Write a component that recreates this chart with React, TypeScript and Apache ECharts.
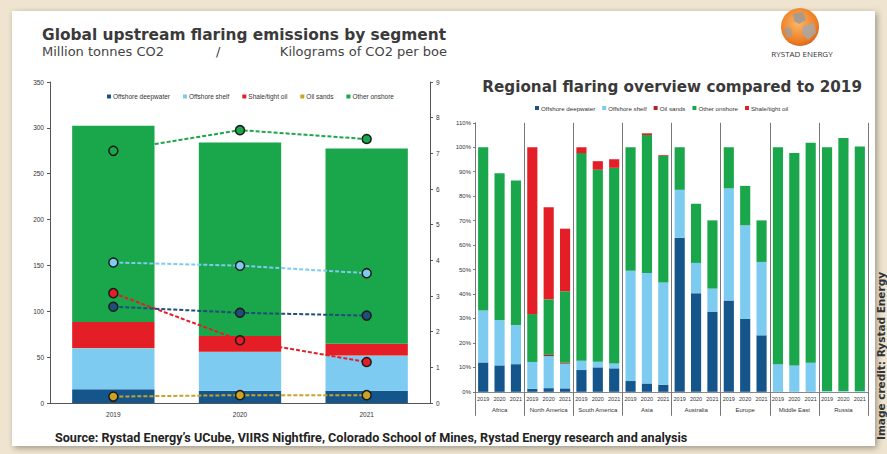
import React, { useEffect, useRef } from 'react';
import * as echarts from 'echarts';

// ---------- Left chart data ----------
const years = ['2019', '2020', '2021'];
const segDeepwater = [15, 13.4, 13.4];
const segShelf = [44.6, 42.2, 38];
const segShale = [28.4, 17.1, 12.7];
const segOilSands = [0.4, 0.4, 0.4];
const segOnshore = [214, 211, 213];

const intDeepwater = [2.7, 2.53, 2.45];
const intShelf = [3.94, 3.85, 3.64];
const intShale = [3.08, 1.76, 1.15];
const intOilSands = [0.18, 0.22, 0.22];
const intOnshore = [7.07, 7.65, 7.4];

// ---------- Right chart data (per region: 2019, 2020, 2021) ----------
const regions = ['Africa', 'North America', 'South America', 'Asia', 'Australia', 'Europe', 'Middle East', 'Russia'];
const regDeepwater = [12, 10.8, 11.3, 1.2, 1.5, 1.4, 8.9, 10, 9.6, 4.4, 3.4, 2.9, 63, 40.3, 32.8, 37.3, 29.8, 23.1, 0, 0, 0, 0, 0, 0];
const regShelf = [21.2, 18.6, 16, 11, 13.1, 10.1, 3.8, 2.3, 2, 45.1, 45.2, 41.8, 19.6, 12.4, 9.4, 45.9, 38.3, 30, 11.3, 10.8, 11.9, 0.3, 0.3, 0.3];
const regOilSands = [0, 0, 0, 0, 0.5, 0.4, 0, 0, 0, 0, 0, 0, 0, 0, 0, 0, 0, 0, 0, 0, 0, 0, 0, 0];
const regOnshore = [66.8, 60, 59.1, 19.6, 22.7, 29.2, 84.9, 78.5, 80, 50.5, 56.4, 51.8, 17.4, 24.2, 27.9, 16.8, 16.1, 17, 88.7, 86.8, 89.9, 99.7, 103.5, 100];
const regShale = [0, 0, 0, 68.2, 37.7, 25.6, 2.4, 3.5, 3.5, 0, 0.7, 0.3, 0, 0, 0, 0, 0, 0, 0, 0, 0, 0, 0, 0];

const C = {
  deep: '#14558c',
  shelf: '#7ecbf1',
  shale: '#e41e26',
  oilLeft: '#c9a227',
  oilRight: '#b0232a',
  onshore: '#1aa64b',
};

export default function App() {
  const ref = useRef<HTMLDivElement>(null);
  useEffect(() => {
    if (!ref.current) return;
    const chart = echarts.init(ref.current, undefined, { renderer: 'svg' });
    const cats = regions.flatMap((r) => years.map((y) => r + '|' + y));
    const axisGray = '#555';
    const tiny = { fontSize: 6.5, color: '#333', fontFamily: 'Arial, Liberation Sans, sans-serif' };

    const barSeries = (name: string, data: number[], color: string, xi: number, yi: number, stack: string, width: string) => ({
      type: 'bar', name, data, stack, xAxisIndex: xi, yAxisIndex: yi, barWidth: width,
      itemStyle: { color }, emphasis: { disabled: true }, z: 2,
    });
    const lineSeries = (name: string, data: number[], color: string) => ({
      type: 'line', name, data, xAxisIndex: 0, yAxisIndex: 1,
      lineStyle: { color, width: 2, type: [4, 2] },
      itemStyle: { color, borderColor: '#1a1a1a', borderWidth: 1.5 },
      symbol: 'circle', symbolSize: 9, z: 5,
    });

    chart.setOption({
      animation: false,
      backgroundColor: '#eee4cf',
      textStyle: { fontFamily: 'Arial, Liberation Sans, sans-serif' },
      graphic: [
        {
          type: 'rect', z: -10, shape: { x: 12, y: 11, width: 863, height: 435 },
          style: { fill: '#ffffff', shadowBlur: 6, shadowColor: 'rgba(0,0,0,0.35)', shadowOffsetX: 2, shadowOffsetY: 2 },
        },
        {
          type: 'text', x: 42, y: 35,
          style: { text: 'Global upstream flaring emissions by segment', font: 'bold 15.4px "DejaVu Sans", sans-serif', fill: '#3a3a3a', textVerticalAlign: 'middle' },
        },
        { type: 'text', x: 42, y: 51, style: { text: 'Million tonnes CO2', font: '13px "DejaVu Sans", sans-serif', fill: '#444', textVerticalAlign: 'middle' } },
        { type: 'text', x: 216, y: 51, style: { text: '/', font: '13px "DejaVu Sans", sans-serif', fill: '#444', textVerticalAlign: 'middle' } },
        { type: 'text', x: 447, y: 51, style: { text: 'Kilograms of CO2 per boe', font: '13px "DejaVu Sans", sans-serif', fill: '#444', textAlign: 'right', textVerticalAlign: 'middle' } },
        {
          type: 'text', x: 862, y: 87,
          style: { text: 'Regional flaring overview compared to 2019', font: 'bold 15.2px "DejaVu Sans", sans-serif', fill: '#3a3a3a', textAlign: 'right', textVerticalAlign: 'middle' },
        },
        {
          type: 'text', x: 55, y: 437,
          style: { text: 'Source: Rystad Energy\u2019s UCube, VIIRS Nightfire, Colorado School of Mines, Rystad Energy research and analysis', font: 'bold 12.6px Roboto, sans-serif', fill: '#222', textVerticalAlign: 'middle' },
        },
        {
          type: 'text', x: 802, y: 53,
          style: { text: 'RYSTAD ENERGY', font: '8px "Open Sans", sans-serif', fill: '#333', textAlign: 'center', textVerticalAlign: 'middle' },
        },
        {
          type: 'circle', shape: { cx: 800, cy: 27, r: 19 },
          style: {
            fill: new echarts.graphic.RadialGradient(0.45, 0.4, 0.7, [
              { offset: 0, color: '#fbb76a' },
              { offset: 0.7, color: '#ee7d22' },
              { offset: 1, color: '#c9561a' },
            ]),
          },
        },
        { type: 'polygon', shape: { points: [[793, 14], [803, 12], [806, 20], [799, 24], [794, 21]] }, style: { fill: '#9a9a9a', opacity: 0.85 } },
        { type: 'polygon', shape: { points: [[803, 26], [814, 23], [816, 33], [808, 40], [802, 34]] }, style: { fill: '#a7a7a7', opacity: 0.85 } },
        { type: 'polygon', shape: { points: [[784, 27], [791, 28], [792, 36], [787, 38]] }, style: { fill: '#9d9d9d', opacity: 0.8 } },
        {
          type: 'text', x: 881, y: 272, rotation: Math.PI / 2,
          style: { text: 'Image credit: Rystad Energy', font: 'bold 10.5px "DejaVu Sans", sans-serif', fill: '#333', textAlign: 'right', textVerticalAlign: 'middle' },
        },
      ],
      legend: [
        {
          left: 102, top: 88, icon: 'rect', itemWidth: 4, itemHeight: 4, itemGap: 13,
          textStyle: { ...tiny, padding: [0, 0, 0, -3] },
          data: [
            { name: 'Offshore deepwater', itemStyle: { color: C.deep } },
            { name: 'Offshore shelf', itemStyle: { color: C.shelf } },
            { name: 'Shale/tight oil', itemStyle: { color: C.shale } },
            { name: 'Oil sands', itemStyle: { color: C.oilLeft } },
            { name: 'Other onshore', itemStyle: { color: C.onshore } },
          ],
          selectedMode: false,
        },
        {
          left: 530, top: 100, icon: 'rect', itemWidth: 4, itemHeight: 4, itemGap: 7,
          textStyle: { ...tiny, fontSize: 6.2, padding: [0, 0, 0, -3] },
          data: [
            { name: 'Offshore deepwater', itemStyle: { color: C.deep } },
            { name: 'Offshore shelf', itemStyle: { color: C.shelf } },
            { name: 'Oil sands', itemStyle: { color: C.oilRight } },
            { name: 'Other onshore', itemStyle: { color: C.onshore } },
            { name: 'Shale/tight oil', itemStyle: { color: C.shale } },
          ],
          selectedMode: false,
        },
      ],
      grid: [
        { left: 50, top: 82, width: 380, height: 321 },
        { left: 475, top: 122.8, width: 393, height: 269 },
      ],
      xAxis: [
        {
          type: 'category', gridIndex: 0, data: years,
          axisLine: { lineStyle: { color: axisGray } }, axisTick: { show: false },
          axisLabel: { ...tiny, margin: 8 },
        },
        {
          type: 'category', gridIndex: 1, data: cats,
          axisLine: { lineStyle: { color: '#888' } }, axisTick: { show: false },
          axisLabel: { ...tiny, fontSize: 5.5, margin: 4, interval: 0, formatter: (v: string) => v.split('|')[1] },
        },
        {
          type: 'category', gridIndex: 1, data: regions, position: 'bottom',
          axisLine: { show: false },
          axisTick: { show: true, length: 24, lineStyle: { color: '#777' } },
          splitLine: { show: true, lineStyle: { color: '#777', width: 1 } },
          axisLabel: { ...tiny, fontSize: 6, margin: 15, interval: 0 },
        },
      ],
      yAxis: [
        {
          type: 'value', gridIndex: 0, min: 0, max: 350, interval: 50, position: 'left',
          axisLine: { show: true, lineStyle: { color: axisGray } },
          axisTick: { show: true, length: 3, lineStyle: { color: axisGray } },
          splitLine: { show: false }, axisLabel: { ...tiny, margin: 6 },
        },
        {
          type: 'value', gridIndex: 0, min: 0, max: 9, interval: 1, position: 'right',
          axisLine: { show: true, lineStyle: { color: axisGray } },
          axisTick: { show: true, length: 3, lineStyle: { color: axisGray } },
          splitLine: { show: false }, axisLabel: { ...tiny, margin: 6 },
        },
        {
          type: 'value', gridIndex: 1, min: 0, max: 110, interval: 10,
          axisLine: { show: true, lineStyle: { color: '#777' } },
          axisTick: { show: true, length: 2, lineStyle: { color: '#777' } },
          splitLine: { show: false },
          axisLabel: { ...tiny, fontSize: 6, margin: 4, formatter: '{value}%' },
        },
      ],
      series: [
        barSeries('Offshore deepwater', segDeepwater, C.deep, 0, 0, 'L', '65%'),
        barSeries('Offshore shelf', segShelf, C.shelf, 0, 0, 'L', '65%'),
        barSeries('Oil sands', segOilSands, C.oilLeft, 0, 0, 'L', '65%'),
        barSeries('Shale/tight oil', segShale, C.shale, 0, 0, 'L', '65%'),
        barSeries('Other onshore', segOnshore, C.onshore, 0, 0, 'L', '65%'),
        lineSeries('Other onshore', intOnshore, C.onshore),
        lineSeries('Offshore shelf', intShelf, C.shelf),
        lineSeries('Shale/tight oil', intShale, C.shale),
        lineSeries('Offshore deepwater', intDeepwater, '#1f4e79'),
        lineSeries('Oil sands', intOilSands, C.oilLeft),
        barSeries('Offshore deepwater', regDeepwater, C.deep, 1, 2, 'R', '62%'),
        barSeries('Offshore shelf', regShelf, C.shelf, 1, 2, 'R', '62%'),
        barSeries('Oil sands', regOilSands, C.oilRight, 1, 2, 'R', '62%'),
        barSeries('Other onshore', regOnshore, C.onshore, 1, 2, 'R', '62%'),
        barSeries('Shale/tight oil', regShale, C.shale, 1, 2, 'R', '62%'),
      ],
    });
    return () => chart.dispose();
  }, []);
  return <div ref={ref} style={{ position: 'fixed', left: 0, top: 0, width: 887, height: 454 }} />;
}
